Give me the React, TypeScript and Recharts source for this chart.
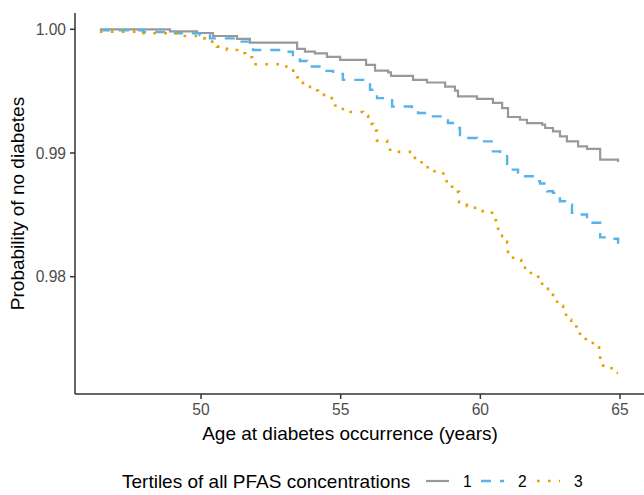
import { LineChart, Line, XAxis, YAxis, Legend } from "recharts"

// Kaplan-Meier style curves
const tertile1Age = [46.38, 48.89, 49.86, 50.43, 51.29, 51.75, 53.44, 53.72, 54.08, 54.51, 54.98, 55.91, 56.23, 56.7, 56.8, 57.59, 58.09, 58.74, 59.09, 59.2, 59.88, 60.45, 60.78, 60.99, 61.42, 61.67, 62.21, 62.32, 62.6, 62.85, 63.1, 63.5, 63.82, 64.29, 64.93]
const tertile1Prob = [1.0, 0.99984, 0.9997, 0.99946, 0.99922, 0.99892, 0.99841, 0.99819, 0.99805, 0.99777, 0.99753, 0.99712, 0.99666, 0.99652, 0.99624, 0.99591, 0.9957, 0.99537, 0.99505, 0.99457, 0.99438, 0.99406, 0.99363, 0.99291, 0.99269, 0.99242, 0.99229, 0.99202, 0.99175, 0.99134, 0.99094, 0.99054, 0.99033, 0.98947, 0.98928]

const tertile2Age = [46.38, 47.92, 49.07, 49.96, 50.32, 51.32, 51.86, 52.94, 53.29, 53.54, 53.8, 54.37, 54.73, 55.08, 55.87, 56.05, 56.3, 56.84, 57.55, 57.77, 58.2, 58.84, 59.02, 59.27, 59.52, 59.88, 60.45, 60.71, 60.96, 61.35, 61.6, 61.96, 62.14, 62.39, 62.6, 62.85, 63.03, 63.28, 63.57, 63.82, 64.29, 64.75, 64.93]
const tertile2Prob = [0.99992, 0.99978, 0.99968, 0.99954, 0.99927, 0.999, 0.99833, 0.99819, 0.99779, 0.99744, 0.99699, 0.99664, 0.9964, 0.99591, 0.99565, 0.99511, 0.99444, 0.99376, 0.99341, 0.99323, 0.99296, 0.99242, 0.99202, 0.99134, 0.99121, 0.99094, 0.99013, 0.98987, 0.98866, 0.98839, 0.98812, 0.98772, 0.98753, 0.98691, 0.98678, 0.9861, 0.98584, 0.98517, 0.98503, 0.98436, 0.98318, 0.98307, 0.98267]

const tertile3Age = [46.38, 47.74, 49.18, 49.89, 50.25, 50.57, 50.93, 51.29, 51.58, 51.83, 52.94, 53.19, 53.44, 53.65, 53.9, 54.19, 54.51, 54.8, 55.08, 55.8, 55.98, 56.16, 56.3, 56.66, 56.77, 57.48, 57.66, 57.95, 58.27, 58.56, 58.74, 58.99, 59.2, 59.24, 59.52, 59.81, 60.42, 60.56, 60.78, 60.96, 60.99, 61.17, 61.46, 61.6, 61.81, 62.07, 62.21, 62.42, 62.6, 62.75, 62.96, 63.07, 63.25, 63.53, 63.57, 63.86, 64.11, 64.25, 64.29, 64.57, 64.82, 64.93]
const tertile3Prob = [0.99981, 0.99968, 0.99946, 0.99927, 0.999, 0.9986, 0.99833, 0.99807, 0.99774, 0.99718, 0.99699, 0.99666, 0.99613, 0.99551, 0.99505, 0.9947, 0.99444, 0.99384, 0.99331, 0.99301, 0.99234, 0.9918, 0.991, 0.99076, 0.99009, 0.98981, 0.98925, 0.98885, 0.98852, 0.98834, 0.98772, 0.98727, 0.98686, 0.98602, 0.9857, 0.9853, 0.98457, 0.98388, 0.98328, 0.98275, 0.98187, 0.98135, 0.98114, 0.98052, 0.98014, 0.97979, 0.9792, 0.97872, 0.97826, 0.97764, 0.97724, 0.97651, 0.97598, 0.97574, 0.97496, 0.97464, 0.97429, 0.97375, 0.97281, 0.9726, 0.97222, 0.97222]

const xTicks = [50, 55, 60, 65]
const yTicks = [0.98, 0.99, 1.0]

const toRows = (ages: number[], probs: number[]) => ages.map((age, i) => ({ age, prob: probs[i] }))

const series = [
  { name: "1", data: toRows(tertile1Age, tertile1Prob), color: "#999999", dash: undefined, width: 2.2 },
  { name: "2", data: toRows(tertile2Age, tertile2Prob), color: "#56B4E9", dash: "10 9", width: 2.4 },
  { name: "3", data: toRows(tertile3Age, tertile3Prob), color: "#E69F00", dash: "2.6 8.4", width: 2.6 },
]

const FONT = "Arial, 'Liberation Sans', sans-serif"

function LegendContent() {
  const keyX = [426, 481, 537]
  return (
    <svg width={644} height={30} style={{ display: "block" }}>
      <text x={122} y={23} fontSize={19} fill="#000" fontFamily={FONT}>
        Tertiles of all PFAS concentrations
      </text>
      {series.map((s, i) => (
        <g key={s.name}>
          <line
            x1={keyX[i]}
            x2={keyX[i] + 23}
            y1={16}
            y2={16}
            stroke={s.color}
            strokeWidth={s.width}
            strokeDasharray={s.dash}
          />
          <text x={keyX[i] + 37} y={21.5} fontSize={15.6} fill="#000" fontFamily={FONT}>
            {s.name}
          </text>
        </g>
      ))}
    </svg>
  )
}

export default function App() {
  return (
    <div style={{ position: "absolute", left: 0, top: 0, width: 644, height: 495, background: "#fff" }}>
      <LineChart width={644} height={495} margin={{ top: 13, right: 0, bottom: 0, left: 0 }}>
        <XAxis
          type="number"
          dataKey="age"
          domain={[45.489, 65.859]}
          ticks={xTicks}
          allowDataOverflow
          height={101}
          axisLine={{ stroke: "#333", strokeWidth: 1.5 }}
          tickLine={{ stroke: "#333", strokeWidth: 1.5 }}
          tickSize={5}
          tickMargin={5}
          tick={{ fill: "#4D4D4D", fontSize: 15.6, fontFamily: FONT }}
          label={({ viewBox }: any) => (
            <text x={350} y={viewBox.y + 46} textAnchor="middle" fontSize={19} fill="#000" fontFamily={FONT}>
              Age at diabetes occurrence (years)
            </text>
          )}
        />
        <YAxis
          type="number"
          domain={[0.970518, 1.001318]}
          ticks={yTicks}
          allowDataOverflow
          width={75}
          axisLine={{ stroke: "#333", strokeWidth: 1.5 }}
          tickLine={{ stroke: "#333", strokeWidth: 1.5 }}
          tickSize={5}
          tickMargin={4}
          tickFormatter={(v: number) => v.toFixed(2)}
          tick={{ fill: "#4D4D4D", fontSize: 15.6, fontFamily: FONT }}
          label={({ viewBox }: any) => {
            const cy = viewBox.y + viewBox.height / 2
            return (
              <text
                x={24}
                y={cy}
                transform={`rotate(-90, 24, ${cy})`}
                textAnchor="middle"
                fontSize={19}
                fill="#000"
                fontFamily={FONT}
              >
                Probability of no diabetes
              </text>
            )
          }}
        />
        {series.map((s) => (
          <Line
            key={s.name}
            name={s.name}
            data={s.data}
            dataKey="prob"
            type="stepAfter"
            stroke={s.color}
            strokeWidth={s.width}
            strokeDasharray={s.dash}
            dot={false}
            activeDot={false}
            isAnimationActive={false}
          />
        ))}
        <Legend
          layout="horizontal"
          verticalAlign="middle"
          align="center"
          width={644}
          wrapperStyle={{ top: 465, left: 0, width: 644 }}
          content={() => <LegendContent />}
        />
      </LineChart>
    </div>
  )
}
